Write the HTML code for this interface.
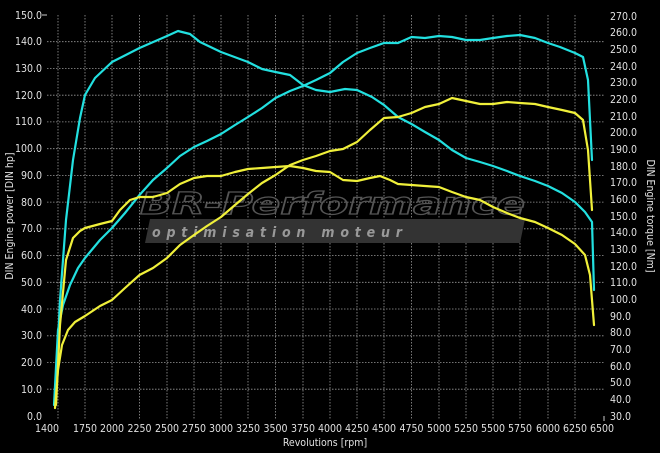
<!DOCTYPE html>
<html><head><style>
body{margin:0;background:#000;}
svg{display:block;font-family:"DejaVu Sans Condensed","Liberation Sans",sans-serif;}
</style></head><body>
<svg width="660" height="453" viewBox="0 0 660 453" xmlns="http://www.w3.org/2000/svg">
<rect width="660" height="453" fill="#000"/>
<g stroke="#999" stroke-width="0.8" stroke-dasharray="1.5,1.5">
<line x1="47" y1="41.7" x2="604" y2="41.7"/><line x1="47" y1="68.5" x2="604" y2="68.5"/><line x1="47" y1="95.2" x2="604" y2="95.2"/><line x1="47" y1="121.9" x2="604" y2="121.9"/><line x1="47" y1="148.7" x2="604" y2="148.7"/><line x1="47" y1="175.4" x2="604" y2="175.4"/><line x1="47" y1="202.1" x2="604" y2="202.1"/><line x1="47" y1="228.8" x2="604" y2="228.8"/><line x1="47" y1="255.6" x2="604" y2="255.6"/><line x1="47" y1="282.3" x2="604" y2="282.3"/><line x1="47" y1="309" x2="604" y2="309"/><line x1="47" y1="335.8" x2="604" y2="335.8"/><line x1="47" y1="362.5" x2="604" y2="362.5"/><line x1="47" y1="389.2" x2="604" y2="389.2"/>
<line x1="58" y1="15" x2="58" y2="420"/><line x1="85" y1="15" x2="85" y2="420"/><line x1="112" y1="15" x2="112" y2="420"/><line x1="139.5" y1="15" x2="139.5" y2="420"/><line x1="167" y1="15" x2="167" y2="420"/><line x1="194" y1="15" x2="194" y2="420"/><line x1="221" y1="15" x2="221" y2="420"/><line x1="248" y1="15" x2="248" y2="420"/><line x1="275.5" y1="15" x2="275.5" y2="420"/><line x1="303" y1="15" x2="303" y2="420"/><line x1="330" y1="15" x2="330" y2="420"/><line x1="357" y1="15" x2="357" y2="420"/><line x1="384" y1="15" x2="384" y2="420"/><line x1="411.5" y1="15" x2="411.5" y2="420"/><line x1="439" y1="15" x2="439" y2="420"/><line x1="466" y1="15" x2="466" y2="420"/><line x1="493" y1="15" x2="493" y2="420"/><line x1="520" y1="15" x2="520" y2="420"/><line x1="548" y1="15" x2="548" y2="420"/><line x1="575" y1="15" x2="575" y2="420"/>
</g>
<g fill="#e0e0e0" font-size="10.5">
<g text-anchor="end">
<text x="42" y="19">150.0</text><text x="42" y="45">140.0</text><text x="42" y="72">130.0</text><text x="42" y="99">120.0</text><text x="42" y="125">110.0</text><text x="42" y="152">100.0</text><text x="42" y="179">90.0</text><text x="42" y="206">80.0</text><text x="42" y="232">70.0</text><text x="42" y="259">60.0</text><text x="42" y="286">50.0</text><text x="42" y="313">40.0</text><text x="42" y="339">30.0</text><text x="42" y="366">20.0</text><text x="42" y="393">10.0</text><text x="42" y="420">0.0</text>
</g>
<g text-anchor="start">
<text x="610" y="20">270.0</text><text x="610" y="36">260.0</text><text x="610" y="53">250.0</text><text x="610" y="70">240.0</text><text x="610" y="86">230.0</text><text x="610" y="103">220.0</text><text x="610" y="120">210.0</text><text x="610" y="136">200.0</text><text x="610" y="153">190.0</text><text x="610" y="170">180.0</text><text x="610" y="186">170.0</text><text x="610" y="203">160.0</text><text x="610" y="220">150.0</text><text x="610" y="236">140.0</text><text x="610" y="253">130.0</text><text x="610" y="270">120.0</text><text x="610" y="286">110.0</text><text x="610" y="303">100.0</text><text x="610" y="320">90.0</text><text x="610" y="336">80.0</text><text x="610" y="353">70.0</text><text x="610" y="370">60.0</text><text x="610" y="386">50.0</text><text x="610" y="403">40.0</text><text x="610" y="420">30.0</text>
</g>
<g text-anchor="middle">
<text x="47" y="432">1400</text><text x="85" y="432">1750</text><text x="112" y="432">2000</text><text x="139.5" y="432">2250</text><text x="167" y="432">2500</text><text x="194" y="432">2750</text><text x="221" y="432">3000</text><text x="248" y="432">3250</text><text x="275.5" y="432">3500</text><text x="303" y="432">3750</text><text x="330" y="432">4000</text><text x="357" y="432">4250</text><text x="384" y="432">4500</text><text x="411.5" y="432">4750</text><text x="439" y="432">5000</text><text x="466" y="432">5250</text><text x="493" y="432">5500</text><text x="520" y="432">5750</text><text x="548" y="432">6000</text><text x="575" y="432">6250</text><text x="602" y="432">6500</text>
<text x="325" y="446">Revolutions [rpm]</text>
</g>
<text transform="translate(13,216) rotate(-90)" text-anchor="middle">DIN Engine power [DIN hp]</text>
<text transform="translate(647,216) rotate(90)" text-anchor="middle">DIN Engine torque [Nm]</text>
</g>
<g stroke="#ccc" stroke-width="1">
<line x1="42" y1="15" x2="47" y2="15"/><line x1="604" y1="416" x2="604" y2="421"/>
</g>
<text x="140" y="214" font-size="30" font-style="italic" font-weight="bold" fill="none" stroke="#555" stroke-width="1.2" textLength="385" lengthAdjust="spacingAndGlyphs">BR-Performance</text>
<polygon points="150,219 525,219 520,243 145,243" fill="#333"/>
<text x="152" y="237" font-size="14" font-style="italic" font-weight="bold" fill="#999" textLength="250" lengthAdjust="spacing">optimisation moteur</text>
<g fill="none" stroke-width="2.2" stroke-linejoin="round" stroke-linecap="round">
<polyline stroke="#22e0e0" points="55,405 60,300 66,220 73,160 80,118 85,95 95,78 112,62 139.5,48 167,36 178,31 190,34 200,42 221,52 248,62 262,69 275.5,72 290,75 303,85 316,90 330,92 345,89 357,90 372,97 384,105 398,117 411.5,124 425,132 439,140 452,150 466,158 480,162 493,166 507,171 520,176 535,181 548,186 562,193 575,202 585,212 592,222 594,290"/>
<polyline stroke="#22e0e0" points="54,405 58,330 63,305 70,285 78,268 85,258 100,240 112,228 125,213 139.5,195 153,180 167,168 180,156 194,147 207,141 221,134 235,125 248,117 262,108 275.5,98 290,91 303,86 316,80 330,73 343,62 357,53 370,48 384,43 398,43 411.5,37 425,38 439,36 452,37 466,40 480,40 493,38 507,36 520,35 535,38 548,43 560,47 575,53 583,57 588,80 592,160"/>
<polyline stroke="#f0f03a" points="56,405 60,325 66,260 73,238 80,231 85,228 100,224 112,221 120,210 130,200 139.5,197 153,197 167,193 180,184 194,178 207,176 221,176 235,172 248,169 262,168 275.5,167 290,166 303,168 316,171 330,172 343,180 357,181 370,178 380,176 390,180 398,184 411.5,185 425,186 439,187 452,192 466,197 480,200 493,207 507,213 520,218 535,222 548,228 562,235 575,244 585,255 590,275 594,325"/>
<polyline stroke="#f0f03a" points="55,408 58,370 62,345 68,330 75,322 85,316 100,306 112,300 125,288 139.5,275 153,268 167,258 180,245 194,235 207,226 221,217 235,205 248,194 262,183 275.5,175 290,165 303,160 316,156 330,151 343,149 357,142 370,130 384,118 398,117 411.5,113 425,107 439,104 452,98 466,101 480,104 493,104 507,102 520,103 535,104 548,107 562,110 575,113 583,120 588,150 592,210"/>
</g>
</svg>
</body></html>
